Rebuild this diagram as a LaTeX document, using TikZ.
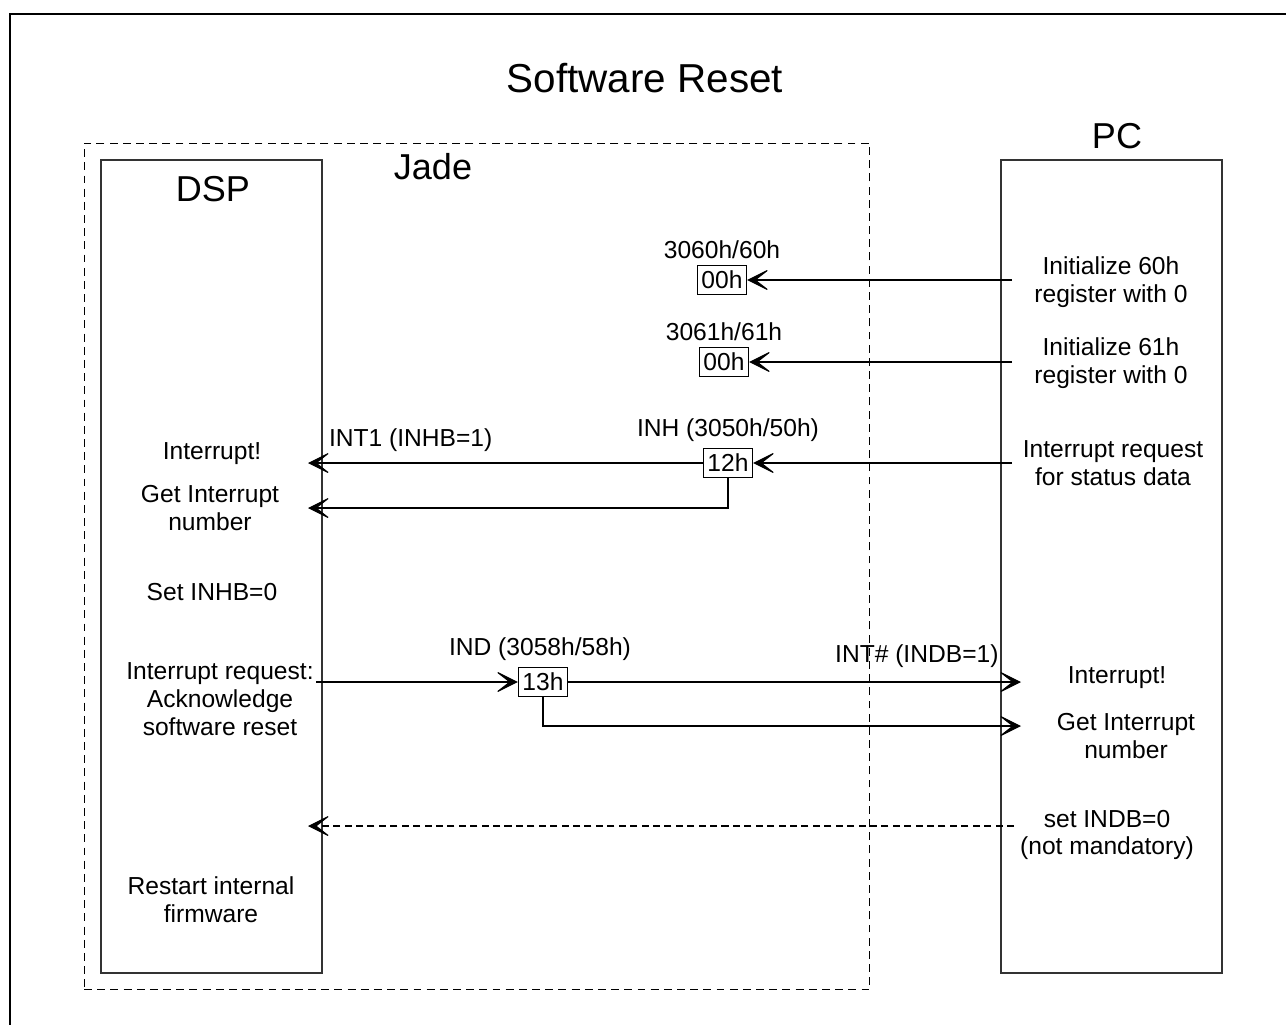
\documentclass[tikz,border=0pt]{standalone}
\usepackage{fontspec}
\setmainfont{Liberation Sans}
\usetikzlibrary{arrows.meta,positioning}

\begin{document}
\begin{tikzpicture}[
  x=0.02cm, y=-0.02cm,
  lane/.style={draw=black!80, line width=0.7pt, minimum width=4.42cm, minimum height=16.26cm, inner sep=0pt},
  reg/.style={draw, line width=0.6pt, minimum width=28pt, minimum height=16pt, inner sep=1pt, font=\fontsize{14}{16}\selectfont},
  lbl/.style={align=center, inner sep=1pt, font=\fontsize{14}{15.8}\selectfont},
  head/.style={inner sep=0pt, font=\fontsize{20.5}{24}\selectfont},
  arrow/.style={-{Stealth[length=14pt, width=14pt, inset=9pt]}, line width=0.6pt}
]
\useasboundingbox (0,0) rectangle (1286,1025);
\draw[line width=1.2pt] (10,1040) |- (1300,14);

\node[font=\fontsize{23}{27}\selectfont] (title) at (645,78) {Software Reset};

% lanes
\node[draw, dash pattern=on 4.5pt off 3pt, line width=0.6pt, minimum width=15.72cm, minimum height=16.94cm, inner sep=0pt] (jade) at (477,566.5) {};
\node[lane] (dsp) at (211.5,566.5) {};
\node[lane] (pc) at (1111.5,566.5) {};
\node[head] at (213,189) {DSP};
\node[head] at (433,167) {Jade};
\node[head] at (1117,136) {PC};

% DSP side
\node[lbl] (dint) at (212,454) {Interrupt!};
\node[lbl] (dget) at (210,508) {Get Interrupt\\number};
\node[lbl] (dset) at (212,592) {Set INHB=0};
\node[lbl] (dack) at (220,699) {Interrupt request:\\Acknowledge\\software reset};
\node[lbl] (drst) at (211,900) {Restart internal\\firmware};

% PC side
\node[lbl] (init60) at (1111,282) {Initialize 60h\\register with 0};
\node[lbl] (init61) at (1111,363) {Initialize 61h\\register with 0};
\node[lbl] (pirq) at (1113,463) {Interrupt request\\for status data};
\node[lbl] (pint) at (1117,678) {Interrupt!};
\node[lbl] (pget) at (1126,736) {Get Interrupt\\number};
\node[lbl] (pset) at (1107,835) {set INDB=0\\(not mandatory)};

% registers
\node[reg] (r60) at (722,280) {00h};
\node[reg] (r61) at (724,362) {00h};
\node[reg] (inh) at (728,463) {12h};
\node[reg] (ind) at (543,682) {13h};
\node[lbl, above=2.5pt of r60] {3060h/60h};
\node[lbl, above=2.5pt of r61] {3061h/61h};
\node[lbl, above=2.5pt of inh] {INH (3050h/50h)};
\node[lbl, above=2.5pt of ind, xshift=-3*0.02cm] {IND (3058h/58h)};

\coordinate (dspend) at (308,0);
\coordinate (dspout) at (316,0);
\coordinate (pcout) at (1012,0);
\coordinate (pcend) at (1021,0);
\coordinate (pcgetin) at (1021,726);
\coordinate (pcack) at (1014,826);

\draw[arrow] (pcout |- r60.east) -- (r60.east);
\draw[arrow] (pcout |- r61.east) -- (r61.east);
\draw[arrow] (pcout |- inh.east) -- (inh.east);
\draw[arrow] (inh.west) -- node[lbl, pos=0.74, above=5pt] {INT1 (INHB=1)} (inh.west -| dspend);
\draw[arrow] (inh.south) |- (dspend |- dget.center);
\draw[arrow] (dspout |- ind.west) -- (ind.west);
\draw[arrow] (ind.east) -- node[lbl, pos=0.77, above=7pt] {INT\# (INDB=1)} (ind.east -| pcend);
\draw[arrow] (ind.south) |- (pcgetin);
\draw[arrow, dash pattern=on 4pt off 2.5pt] (pcack) -- (pcack -| dspend);
\end{tikzpicture}
\end{document}
